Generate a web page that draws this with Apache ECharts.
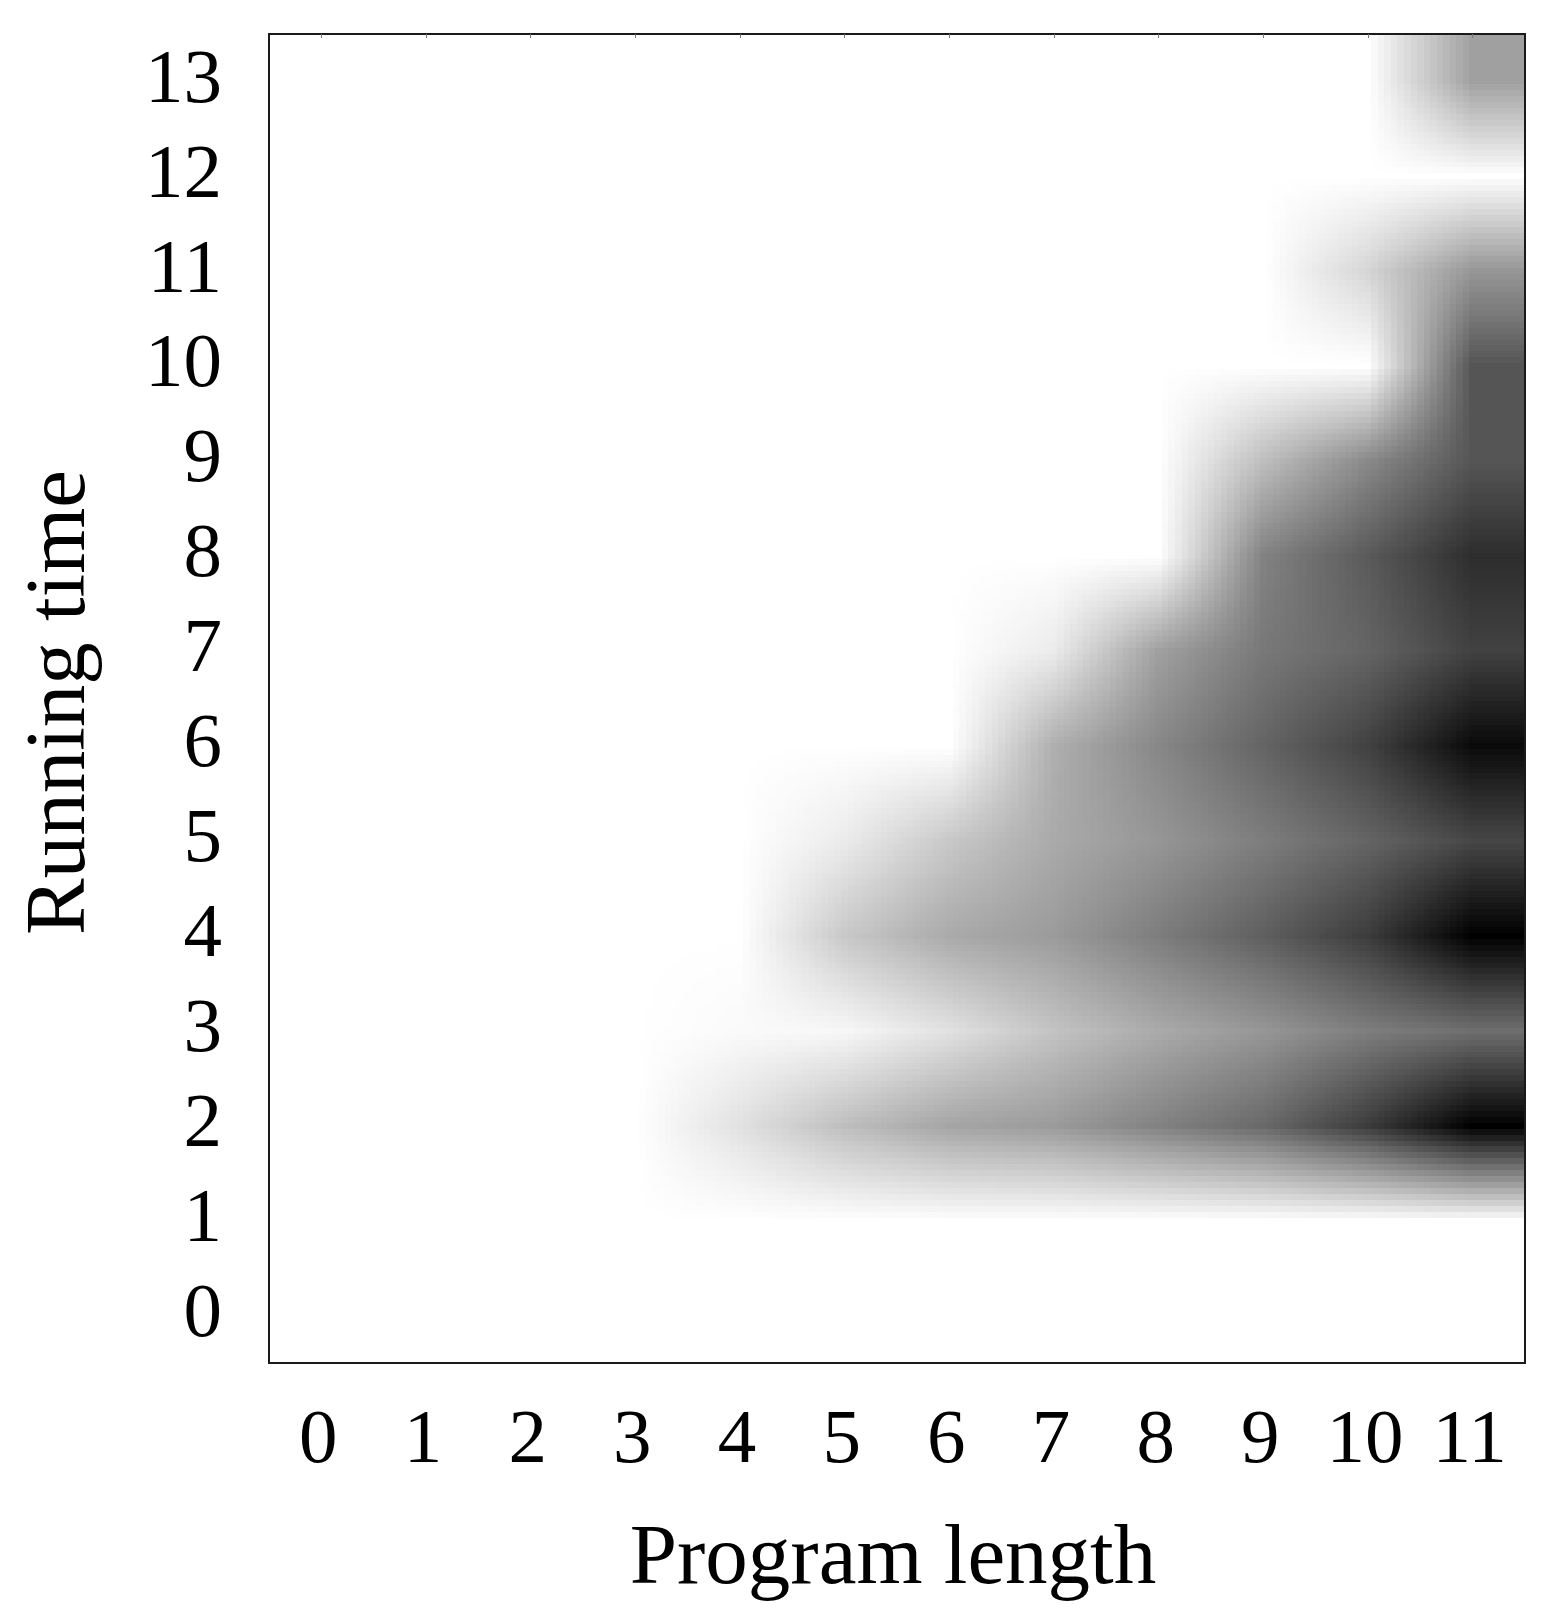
<!DOCTYPE html>
<html>
<head>
<meta charset="utf-8">
<style>html,body{margin:0;padding:0;background:#fff}#c{width:1568px;height:1616px}</style>
<script src="https://cdn.jsdelivr.net/npm/echarts@6/dist/echarts.min.js"></script>
</head>
<body>
<div id="c"></div>
<script>
// Tick labels
var programLengths = ['0','1','2','3','4','5','6','7','8','9','10','11'];
var runningTimes = ['0','1','2','3','4','5','6','7','8','9','10','11','12','13'];
// Density (0 = white, 255 = black), one list per running time, by program length
var time0  = [0,0,0,0,0,0,0,0,0,0,0,0];
var time1  = [0,0,0,0,0,0,0,0,0,0,0,0];
var time2  = [0,0,0,0,30,65,90,100,125,150,195,255];
var time3  = [0,0,0,0,5,8,30,60,85,105,130,145];
var time4  = [0,0,0,0,0,55,85,100,130,160,195,255];
var time5  = [0,0,0,0,0,20,55,85,105,130,155,185];
var time6  = [0,0,0,0,0,0,0,80,120,155,190,245];
var time7  = [0,0,0,0,0,0,0,20,95,135,155,190];
var time8  = [0,0,0,0,0,0,0,0,0,125,165,210];
var time9  = [0,0,0,0,0,0,0,0,0,65,118,170];
var time10 = [0,0,0,0,0,0,0,0,0,0,0,170];
var time11 = [0,0,0,0,0,0,0,0,0,0,42,105];
var time12 = [0,0,0,0,0,0,0,0,0,0,0,0];
var time13 = [0,0,0,0,0,0,0,0,0,0,0,95];
var density = [time0,time1,time2,time3,time4,time5,time6,time7,time8,time9,time10,time11,time12,time13];

var cells = [];
density.forEach(function (row, j) {
  row.forEach(function (v, i) { cells.push([i, j, v]); });
});

var STEPS = 16;
var lastX = programLengths.length - 1, lastY = runningTimes.length - 1;
function at(i, j) {
  var a = Math.max(0, Math.min(lastX, i));
  var b = Math.max(0, Math.min(lastY, j));
  return density[b][a];
}
function shadeAt(x, y) {
  var i = Math.floor(x), j = Math.floor(y), fx = x - i, fy = y - j;
  return (at(i, j) * (1 - fx) + at(i + 1, j) * fx) * (1 - fy) +
         (at(i, j + 1) * (1 - fx) + at(i + 1, j + 1) * fx) * fy;
}
// Each table cell is shaded smoothly towards its neighbours, in small blocks, as the original image does
function renderCell(params, api) {
  var i = api.value(0), j = api.value(1);
  var centre = api.coord([i, j]);
  var size = api.size([1, 1]);
  var w = size[0], h = size[1];
  var children = [];
  var mEnd = i === lastX ? STEPS / 2 + 1 : STEPS / 2;
  var nEnd = j === lastY ? STEPS / 2 + 1 : STEPS / 2;
  for (var m = -STEPS / 2; m < mEnd; m++) {
    for (var n = -STEPS / 2; n < nEnd; n++) {
      var d = shadeAt(i + m / STEPS, j + n / STEPS);
      if (d < 0.5) continue;
      var g = Math.round(255 - d);
      var x0 = Math.round(centre[0] + (m - 0.5) / STEPS * w);
      var x1 = Math.round(centre[0] + (m + 0.5) / STEPS * w);
      var y0 = Math.round(centre[1] - (n + 0.5) / STEPS * h);
      var y1 = Math.round(centre[1] - (n - 0.5) / STEPS * h);
      children.push({
        type: 'rect',
        shape: { x: x0, y: y0, width: x1 - x0, height: y1 - y0 },
        style: { fill: 'rgb(' + g + ',' + g + ',' + g + ')' },
        silent: true
      });
    }
  }
  return { type: 'group', children: children };
}

var FONT = '"Liberation Serif", serif';
var lineStyle = { color: '#1a1a1a', width: 2 };
var chart = echarts.init(document.getElementById('c'), null, { renderer: 'canvas' });
chart.setOption({
  animation: false,
  backgroundColor: '#ffffff',
  grid: { left: 269, top: 34, width: 1256, height: 1329, containLabel: false, outerBoundsMode: 'none' },
  xAxis: [{
    type: 'category', data: programLengths, position: 'bottom', z: 10,
    axisLine: { show: true, lineStyle: lineStyle },
    axisTick: { show: false },
    axisLabel: { interval: 0, fontFamily: FONT, fontSize: 77, color: '#000', margin: 40, padding: [0, 6, 0, 0] },
    name: 'Program length', nameLocation: 'middle', nameGap: 155,
    nameTextStyle: { fontFamily: FONT, fontSize: 85, color: '#000', padding: [0, 8, 0, 0] }
  }, {
    type: 'category', data: programLengths, position: 'top', z: 10,
    axisLine: { show: true, lineStyle: lineStyle },
    axisTick: { show: true, inside: true, alignWithLabel: true, length: 4, lineStyle: { color: '#777', width: 1 } },
    axisLabel: { show: false }
  }],
  yAxis: [{
    type: 'category', data: runningTimes, position: 'left', z: 10,
    axisLine: { show: true, lineStyle: lineStyle },
    axisTick: { show: false },
    axisLabel: { interval: 0, fontFamily: FONT, fontSize: 77, color: '#000', margin: 47, padding: [3, 0, 0, 0] },
    name: 'Running time', nameLocation: 'middle', nameGap: 165,
    nameTextStyle: { fontFamily: FONT, fontSize: 85, color: '#000', padding: [0, 8, 0, 0] }
  }, {
    type: 'category', data: runningTimes, position: 'right', z: 10,
    axisLine: { show: true, lineStyle: lineStyle },
    axisTick: { show: false },
    axisLabel: { show: false }
  }],
  series: [{
    type: 'custom',
    coordinateSystem: 'cartesian2d',
    xAxisIndex: 0, yAxisIndex: 0,
    clip: true,
    silent: true,
    renderItem: renderCell,
    encode: { x: 0, y: 1 },
    data: cells
  }]
});
</script>
</body>
</html>
